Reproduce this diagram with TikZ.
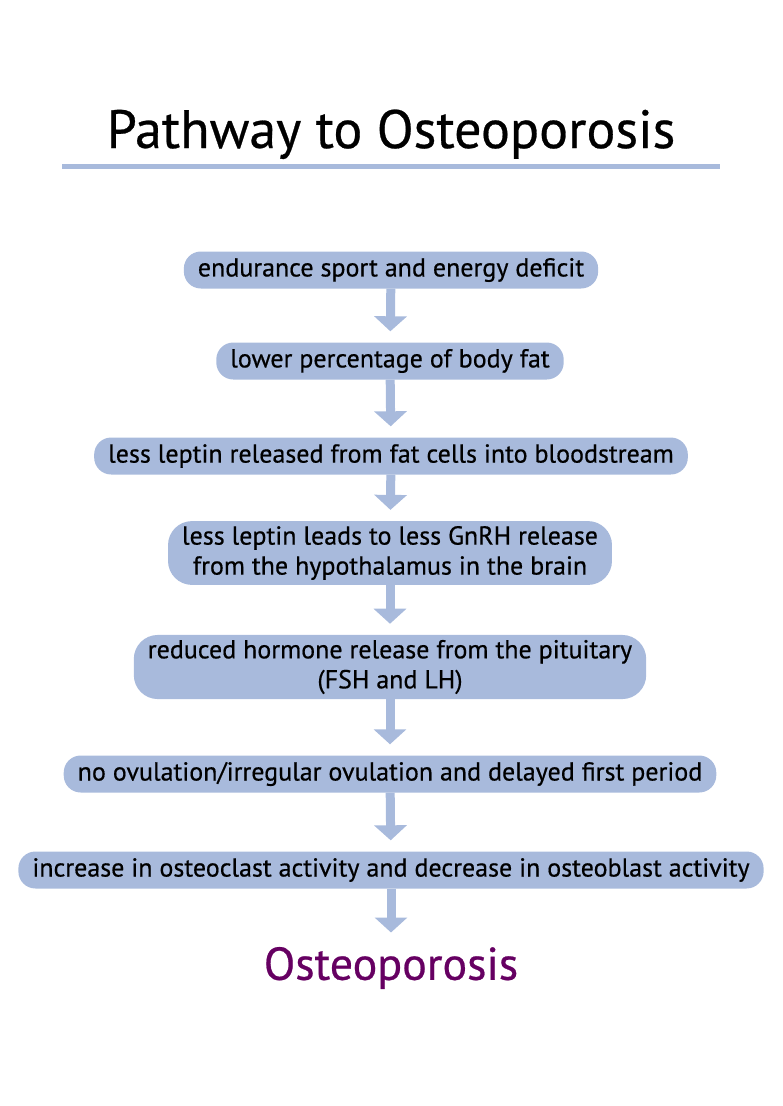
\documentclass[tikz,border=0pt]{standalone}
\usepackage{fontspec}
\setmainfont{PT Sans}
\newfontfamily\stagefont[FakeBold=0.5]{PT Sans}
\usepackage{xcolor}
\usetikzlibrary{arrows.meta}
\definecolor{boxblue}{RGB}{168,186,220}
\definecolor{plum}{RGB}{102,0,98}

\begin{document}
\begin{tikzpicture}[x=1pt,y=-1pt]
  \tikzset{stage/.style={fill=boxblue,rounded corners=17pt,inner xsep=14pt,inner ysep=5pt,minimum height=37pt,align=center,font=\stagefont\fontsize{26}{30}\selectfont}}
  \tikzset{tallstage/.style={stage,rounded corners=24pt}}
  \tikzset{flow/.style={draw=boxblue,line width=9pt,-{Triangle[width=32pt,length=15pt]},shorten >=11pt}}
  \useasboundingbox (0,0) rectangle (782,1106);
  \node[anchor=base,font=\stagefont\fontsize{54}{58}\selectfont] (title) at (391,148) {Pathway to Osteoporosis};
  \draw[boxblue,line width=5pt] (62,166) -- (720,166);
  \node[stage] (sport) at (391,270) {endurance sport and energy deficit};
  \node[stage] (fat) at (390,361) {lower percentage of body fat};
  \node[stage] (leptin) at (391,456) {less leptin released from fat cells into bloodstream};
  \node[tallstage] (gnrh) at (390,553) {less leptin leads to less GnRH release\\from the hypothalamus in the brain};
  \node[tallstage] (pituitary) at (390,667) {reduced hormone release from the pituitary\\(FSH and LH)};
  \node[stage] (ovulation) at (390,774) {no ovulation/irregular ovulation and delayed first period};
  \node[stage] (clast) at (391,870) {increase in osteoclast activity and decrease in osteoblast activity};
  \node[text=plum,font=\stagefont\fontsize{46}{50}\selectfont] (osteo) at (391,968) {Osteoporosis};
  \draw[flow] (sport) -- (fat);
  \draw[flow] (fat) -- (leptin);
  \draw[flow] (leptin) -- (gnrh);
  \draw[flow] (gnrh) -- (pituitary);
  \draw[flow] (pituitary) -- (ovulation);
  \draw[flow] (ovulation) -- (clast);
  \draw[flow] (clast) -- (osteo);
\end{tikzpicture}
\end{document}
